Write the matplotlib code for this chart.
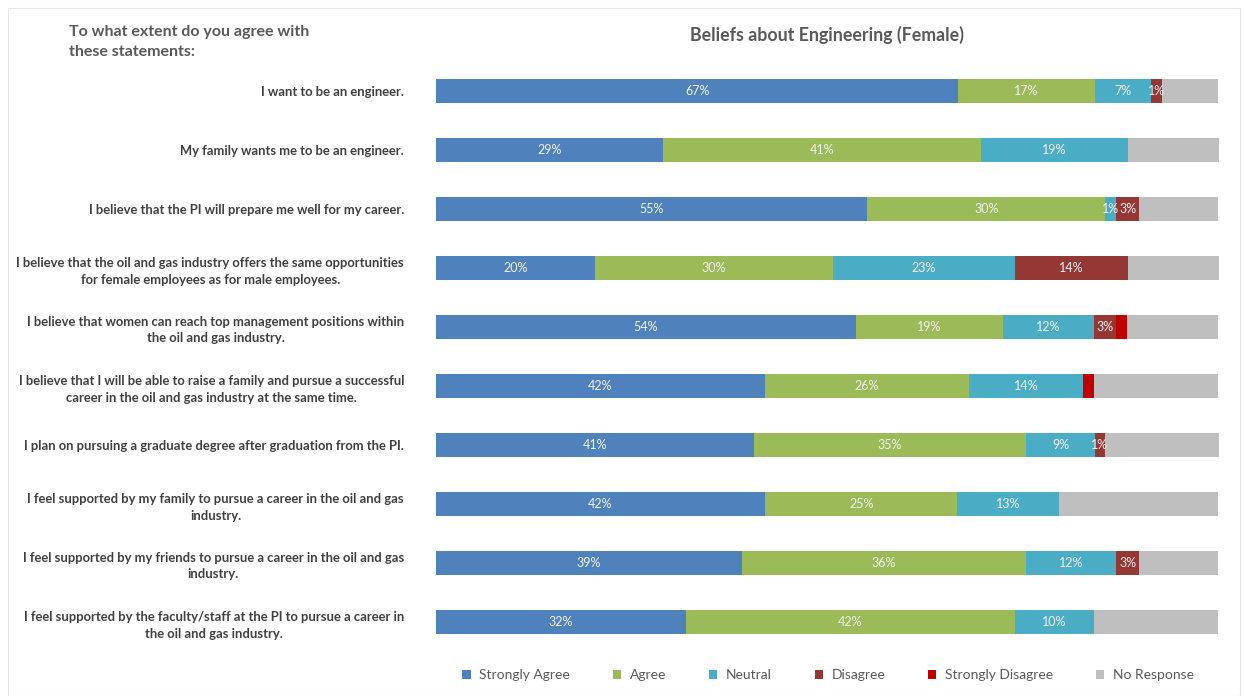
import numpy as np
import matplotlib.pyplot as plt
from matplotlib.patches import Patch, Rectangle

plt.rcParams['font.family'] = ['Lato', 'DejaVu Sans']

# Statements (top to bottom)
statements = [
    "I want to be an engineer.",
    "My family wants me to be an engineer.",
    "I believe that the PI will prepare me well for my career.",
    "I believe that the oil and gas industry offers the same opportunities\nfor female employees as for male employees.",
    "I believe that women can reach top management positions within\nthe oil and gas industry.",
    "I believe that I will be able to raise a family and pursue a successful\ncareer in the oil and gas industry at the same time.",
    "I plan on pursuing a graduate degree after graduation from the PI.",
    "I feel supported by my family to pursue a career in the oil and gas\nindustry.",
    "I feel supported by my friends to pursue a career in the oil and gas\nindustry.",
    "I feel supported by the faculty/staff at the PI to pursue a career in\nthe oil and gas industry.",
]

categories = ["Strongly Agree", "Agree", "Neutral", "Disagree",
              "Strongly Disagree", "No Response"]
colors = ["#4F81BD", "#9BBB59", "#4BACC6", "#953735", "#C00000", "#BFBFBF"]

# Percentages per category (one value per statement)
strongly_agree = [66.7, 29.0, 55.1, 20.3, 53.6, 42.0, 40.6, 42.0, 39.1, 31.9]
agree = [17.4, 40.6, 30.4, 30.4, 18.8, 26.1, 34.8, 24.6, 36.2, 42.0]
neutral = [7.2, 18.8, 1.4, 23.2, 11.6, 14.5, 8.7, 13.0, 11.6, 10.1]
disagree = [1.4, 0.0, 2.9, 14.5, 2.9, 0.0, 1.4, 0.0, 2.9, 0.0]
strongly_disagree = [0.0, 0.0, 0.0, 0.0, 1.4, 1.4, 0.0, 0.0, 0.0, 0.0]
no_response = [7.2, 11.6, 10.1, 11.6, 11.6, 15.9, 14.5, 20.3, 10.1, 15.9]

series = [strongly_agree, agree, neutral, disagree, strongly_disagree, no_response]
labelled = [True, True, True, True, False, False]

fig = plt.figure(figsize=(12.44, 6.96), dpi=100)
ax = fig.add_axes([436 / 1244, 1 - 651.5 / 696, 783 / 1244, 590 / 696])

y = np.arange(len(statements))
left = np.zeros(len(statements))
for vals, name, col, lab in zip(series, categories, colors, labelled):
    vals = np.array(vals)
    ax.barh(y, vals, left=left, height=0.41, color=col, label=name)
    if lab:
        for yi, (l, v) in enumerate(zip(left, vals)):
            if v > 0:
                ax.text(l + v / 2, yi, f"{v:.0f}%", ha='center', va='center',
                        color='#F2F2F2', fontsize=9)
    left += vals

ax.set_xlim(0, 100)
ax.set_ylim(len(statements) - 0.5, -0.5)
ax.set_yticks(y)
ax.set_yticklabels(statements, fontsize=9.4, fontweight='bold', color='#404040')
for t in ax.get_yticklabels():
    t.set_multialignment('center')
    t.set_linespacing(1.45)
ax.tick_params(axis='y', length=0, pad=23)
ax.set_xticks([])
for s in ax.spines.values():
    s.set_visible(False)

ax.set_title("Beliefs about Engineering (Female)", fontsize=12.8,
             fontweight='bold', color='#595959', pad=15)

fig.text(69 / 1244, 1 - 25 / 696, "To what extent do you agree with\nthese statements:",
         fontsize=11.5, fontweight='bold', color='#595959', va='top', ha='left',
         linespacing=1.55)

handles = [Patch(facecolor=c, edgecolor='none') for c in colors]
fig.legend(handles, categories, loc='center', ncol=6, frameon=False,
           bbox_to_anchor=(828 / 1244, 1 - 675 / 696), fontsize=10,
           handlelength=0.6, handleheight=0.6, handletextpad=0.6,
           columnspacing=3.1, labelcolor='#595959')

# light outer frame
fig.patches.append(Rectangle((8 / 1244, 0), 1232 / 1244, 1 - 8 / 696,
                             transform=fig.transFigure, fill=False,
                             edgecolor='#E6E6E6', linewidth=0.8))

fig.savefig("out.png", dpi=100)
